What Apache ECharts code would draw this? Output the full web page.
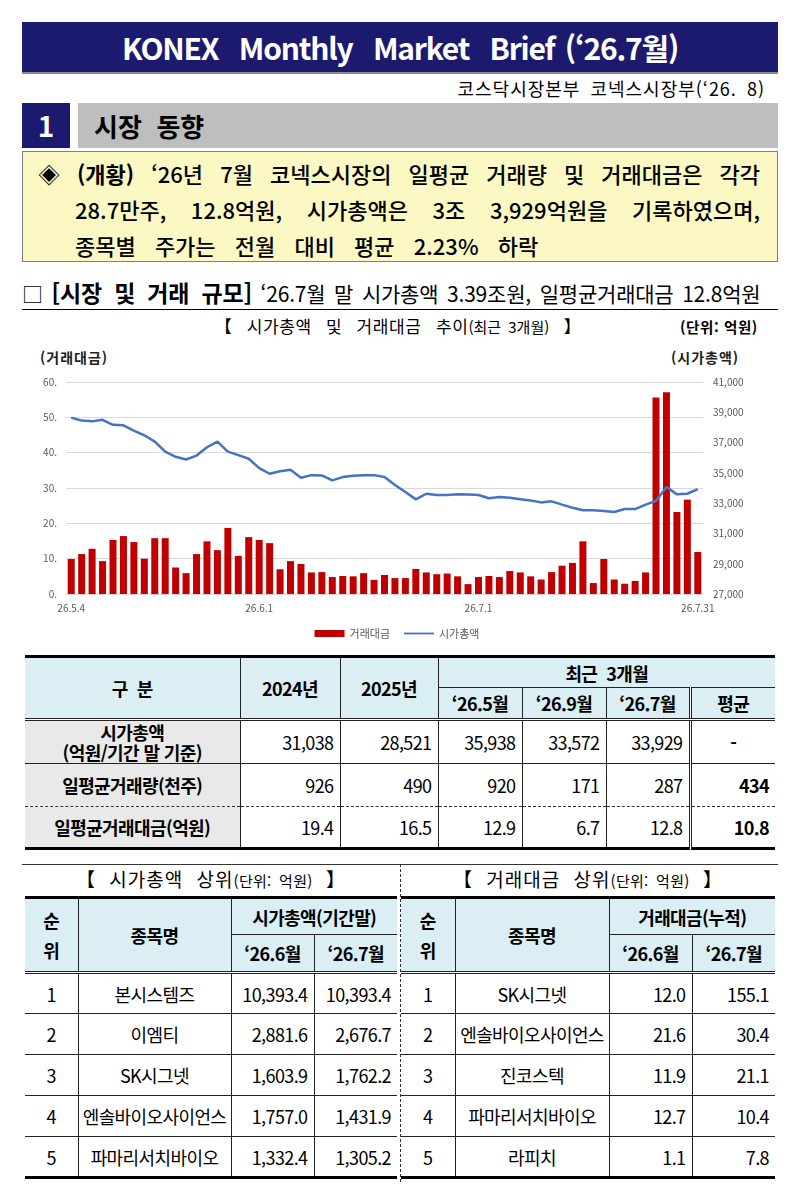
<!DOCTYPE html>
<html lang="ko">
<head>
<meta charset="utf-8">
<title>KONEX Monthly Market Brief</title>
<script src="https://cdn.jsdelivr.net/npm/echarts@6/dist/echarts.min.js"></script>
<style>
  body { margin: 0; background: #fff; font-family: "Noto Sans CJK KR", "Noto Sans", sans-serif; color: #000; }
  .page { position: relative; width: 794px; height: 1189px; overflow: hidden; }
  .abs { position: absolute; }
  .hdr { left: 22px; top: 22px; width: 756px; height: 50px; background: #1C1A6E; color: #fff;
         font-size: 30px; font-weight: 700; text-align: center; line-height: 50px; letter-spacing: -1.2px; word-spacing: 3px;
         border-bottom: 2px solid #8a8a8a; }
  .sub { right: 29px; top: 75px; font-size: 18px; letter-spacing: 1px; word-spacing: 4px; }
  .secnum { left: 22px; top: 103px; width: 48px; height: 45px; background: #1C1A6E; color: #fff; font-size: 28px; font-weight: 700; text-align: center; line-height: 45px; }
  .secbar { left: 78px; top: 103px; width: 700px; height: 45px; background: #BEBEBE; font-size: 26px; font-weight: 700; line-height: 45px; text-indent: 16px; }
  .ybox { left: 22px; top: 151px; width: 754px; height: 109px; background: #FBF8C3; border: 1px solid #7f7f7f; }
  .yl { font-size: 22px; font-weight: 500; letter-spacing: 0; line-height: 30px; white-space: nowrap; }
  .just { text-align: justify; text-align-last: justify; }
  .s2 { left: 22px; top: 275px; width: 760px; font-size: 21px; letter-spacing: -0.2px; word-spacing: 3px; white-space: nowrap; }
  .rule { left: 22px; top: 309px; width: 756px; height: 0; border-top: 1.5px solid #000; }
  .ctitle { left: 120px; top: 313px; width: 556px; text-align: center; font-size: 17px; letter-spacing: 0.6px; word-spacing: 9px; }
  .unit { left: 680px; top: 316px; font-size: 14.5px; font-weight: 600; letter-spacing: 0.6px; }
  .axn { top: 347px; font-size: 14px; font-weight: 700; color: #222; letter-spacing: 1px; }
  #chart { left: 0; top: 340px; width: 794px; height: 305px; }
  table { border-collapse: collapse; table-layout: fixed; position: absolute; font-size: 18px; letter-spacing: -0.6px; }
  td, th { padding: 0 6px; overflow: hidden; white-space: nowrap; }
  th { background: #DAEEF3; font-weight: 700; text-align: center; border-left: 1px solid #222; border-right: 1px solid #222; }
  .t1 { left: 25px; top: 655px; width: 750px; border-top: 3px solid #000; border-bottom: 3px solid #000; }
  .t1 td { text-align: right; border-left: 1px solid #222; }
  .t1 td.lab { text-align: center; background: #E9E9E9; font-weight: 700; border-left: none; padding: 0 2px; }
  .t1 th.first { border-left: none; }
  .t1 th.last, .t1 td.last { border-right: none; }
  .t1 .dbl { border-left: 3px double #222; }
  .t1 tr.hb th { border-bottom: 3px double #222; }
  .t1 tr.h1 th.grp { border-bottom: 1px solid #222; }
  .t1 tr.r1 td { border-bottom: 1px solid #222; }
  .t1 tr.r2 td { border-bottom: 1px dashed #333; }
  .t1 td.avg { font-weight: 700; text-align: right; }
  .tb { top: 896px; border-top: 3px solid #000; border-bottom: 3px solid #000; font-size: 18px; }
  .tb th.grp { border-bottom: 1px solid #222; }
  .tb tr.hb th { border-bottom: 3px double #222; }
  .tb td { border-left: 1px solid #222; border-bottom: 1px solid #222; text-align: right; }
  .tb td.c { text-align: center; padding: 0 1px; }
  .tb td.first, .tb th.first { border-left: none; }
  .tb td.last, .tb th.last { border-right: none; }
  .tb tr:last-child td { border-bottom: none; }
  .btitle { top: 865px; font-size: 19px; letter-spacing: 1px; word-spacing: 7px; text-align: center; }
  .btitle span { font-size: 15px; letter-spacing: 0.3px; word-spacing: 3px; }
  .hline { left: 22px; top: 864px; width: 756px; border-top: 1px solid #333; }
  .vline { left: 400px; top: 864px; height: 318px; border-left: 1px dashed #333; }
</style>
</head>
<body>
<div class="page">
  <div class="abs hdr">KONEX &nbsp;Monthly &nbsp;Market &nbsp;Brief (‘26.7월)</div>
  <div class="abs sub">코스닥시장본부 코넥스시장부(‘26. 8)</div>
  <div class="abs secnum">1</div>
  <div class="abs secbar">시장 &nbsp;동향</div>
  <div class="abs ybox"></div>
  <div class="abs yl just" style="left:38px; top:158px; width:722px;">◈ <b>(개황)</b> ‘26년 7월 코넥스시장의 일평균 거래량 및 거래대금은 각각</div>
  <div class="abs yl just" style="left:75px; top:194px; width:685px;">28.7만주, 12.8억원, 시가총액은 3조 3,929억원을 기록하였으며,</div>
  <div class="abs yl" style="left:75px; top:230px; word-spacing:13px;">종목별 주가는 전월 대비 평균 2.23% 하락</div>

  <div class="abs s2">□ <b style="font-size:23px; word-spacing:6px;">[시장 및 거래 규모]</b> ‘26.7월 말 시가총액 3.39조원, 일평균거래대금 12.8억원</div>
  <div class="abs rule"></div>
  <div class="abs ctitle">【 시가총액 및 거래대금 추이<span style="font-size:15px; letter-spacing:0; word-spacing:3px;">(최근 3개월)</span> 】</div>
  <div class="abs unit">(단위: 억원)</div>
  <div class="abs axn" style="left:40px;">(거래대금)</div>
  <div class="abs axn" style="left:671px;">(시가총액)</div>
  <div class="abs" id="chart"></div>

  <table class="t1">
    <colgroup><col style="width:215px"><col style="width:100px"><col style="width:98px"><col style="width:84px"><col style="width:84px"><col style="width:84px"><col style="width:85px"></colgroup>
    <tr class="h1" style="height:31px;">
      <th class="first" rowspan="2" style="border-bottom:3px double #222;">구 &nbsp;분</th>
      <th rowspan="2" style="border-bottom:3px double #222;">2024년</th>
      <th rowspan="2" style="border-bottom:3px double #222;">2025년</th>
      <th class="grp last" colspan="4">최근 &nbsp;3개월</th>
    </tr>
    <tr class="hb" style="height:32px;">
      <th>‘26.5월</th><th>‘26.9월</th><th>‘26.7월</th><th class="dbl last">평균</th>
    </tr>
    <tr class="r1" style="height:44px;">
      <td class="lab" style="line-height:20px;">시가총액<br>(억원/기간 말 기준)</td>
      <td>31,038</td><td>28,521</td><td>35,938</td><td>33,572</td><td>33,929</td><td class="dbl last avg" style="text-align:center;">-</td>
    </tr>
    <tr class="r2" style="height:43px;">
      <td class="lab">일평균거래량(천주)</td>
      <td>926</td><td>490</td><td>920</td><td>171</td><td>287</td><td class="dbl last avg">434</td>
    </tr>
    <tr style="height:42px;">
      <td class="lab">일평균거래대금(억원)</td>
      <td>19.4</td><td>16.5</td><td>12.9</td><td>6.7</td><td>12.8</td><td class="dbl last avg">10.8</td>
    </tr>
  </table>

  <div class="abs hline"></div>
  <div class="abs vline"></div>
  <div class="abs btitle" style="left:25px; width:372px;">【 시가총액 상위<span>(단위: 억원)</span> 】</div>
  <div class="abs btitle" style="left:401px; width:374px;">【 거래대금 상위<span>(단위: 억원)</span> 】</div>

  <table class="tb" style="left:25px; width:372px;">
    <colgroup><col style="width:53px"><col style="width:153px"><col style="width:83px"><col style="width:83px"></colgroup>
    <tr style="height:37px;">
      <th class="first" rowspan="2" style="border-bottom:3px double #222; line-height:30px;">순<br>위</th>
      <th rowspan="2" style="border-bottom:3px double #222;">종목명</th>
      <th class="grp last" colspan="2">시가총액(기간말)</th>
    </tr>
    <tr class="hb" style="height:38px;"><th>‘26.6월</th><th class="last">‘26.7월</th></tr>
    <tr style="height:41px;"><td class="c first">1</td><td class="c">본시스템즈</td><td>10,393.4</td><td class="last">10,393.4</td></tr>
    <tr style="height:41px;"><td class="c first">2</td><td class="c">이엠티</td><td>2,881.6</td><td class="last">2,676.7</td></tr>
    <tr style="height:41px;"><td class="c first">3</td><td class="c">SK시그넷</td><td>1,603.9</td><td class="last">1,762.2</td></tr>
    <tr style="height:41px;"><td class="c first">4</td><td class="c">엔솔바이오사이언스</td><td>1,757.0</td><td class="last">1,431.9</td></tr>
    <tr style="height:41px;"><td class="c first">5</td><td class="c">파마리서치바이오</td><td>1,332.4</td><td class="last">1,305.2</td></tr>
  </table>

  <table class="tb" style="left:401px; width:374px;">
    <colgroup><col style="width:54px"><col style="width:154px"><col style="width:83px"><col style="width:83px"></colgroup>
    <tr style="height:37px;">
      <th class="first" rowspan="2" style="border-bottom:3px double #222; line-height:30px;">순<br>위</th>
      <th rowspan="2" style="border-bottom:3px double #222;">종목명</th>
      <th class="grp last" colspan="2">거래대금(누적)</th>
    </tr>
    <tr class="hb" style="height:38px;"><th>‘26.6월</th><th class="last">‘26.7월</th></tr>
    <tr style="height:41px;"><td class="c first">1</td><td class="c">SK시그넷</td><td>12.0</td><td class="last">155.1</td></tr>
    <tr style="height:41px;"><td class="c first">2</td><td class="c">엔솔바이오사이언스</td><td>21.6</td><td class="last">30.4</td></tr>
    <tr style="height:41px;"><td class="c first">3</td><td class="c">진코스텍</td><td>11.9</td><td class="last">21.1</td></tr>
    <tr style="height:41px;"><td class="c first">4</td><td class="c">파마리서치바이오</td><td>12.7</td><td class="last">10.4</td></tr>
    <tr style="height:41px;"><td class="c first">5</td><td class="c">라피치</td><td>1.1</td><td class="last">7.8</td></tr>
  </table>
</div>

<script>
// 거래일 (26.5.4 ~ 26.7.31)
const dates = [
  '26.5.4', '26.5.6', '26.5.7', '26.5.8', '26.5.11', '26.5.12', '26.5.13', '26.5.14', '26.5.15',
  '26.5.18', '26.5.19', '26.5.20', '26.5.21', '26.5.22', '26.5.26', '26.5.27', '26.5.28', '26.5.29',
  '26.6.1', '26.6.2', '26.6.4', '26.6.5', '26.6.8', '26.6.9', '26.6.10', '26.6.11', '26.6.12',
  '26.6.15', '26.6.16', '26.6.17', '26.6.18', '26.6.19', '26.6.22', '26.6.23', '26.6.24', '26.6.25',
  '26.6.26', '26.6.29', '26.6.30',
  '26.7.1', '26.7.2', '26.7.3', '26.7.6', '26.7.7', '26.7.8', '26.7.9', '26.7.10', '26.7.13',
  '26.7.14', '26.7.15', '26.7.16', '26.7.20', '26.7.21', '26.7.22', '26.7.23', '26.7.24', '26.7.27',
  '26.7.28', '26.7.29', '26.7.30', '26.7.31'
];
const shownDates = ['26.5.4', '26.6.1', '26.7.1', '26.7.31'];

// 거래대금 (억원)
const tradeValue = [
  9.9, 11.3, 12.8, 9.3, 15.3, 16.4, 14.7, 10.0, 15.8, 15.8,
  7.5, 5.9, 11.3, 14.9, 12.4, 18.7, 10.8, 16.1, 15.3, 14.4,
  7.0, 9.3, 8.5, 6.1, 6.2, 4.8, 5.1, 5.0, 5.9, 4.0,
  5.4, 4.5, 4.5, 7.1, 6.1, 5.6, 5.8, 5.0, 2.8, 4.8,
  5.1, 4.8, 6.5, 6.1, 5.0, 4.1, 6.2, 8.0, 8.8, 14.9,
  3.1, 9.9, 4.1, 2.9, 3.7, 6.1, 55.6, 57.1, 23.2, 26.7, 11.9
];

// 시가총액 (억원)
const marketCap = [
  38650, 38450, 38400, 38500, 38170, 38140, 37790, 37480, 37060, 36400,
  36060, 35880, 36140, 36690, 37060, 36400, 36170, 35930, 35310, 34940,
  35110, 35200, 34680, 34850, 34830, 34500, 34720, 34810, 34850, 34850,
  34720, 34200, 33730, 33250, 33620, 33540, 33540, 33580, 33572, 33540,
  33320, 33400, 33360, 33250, 33180, 33050, 33120, 32900, 32700, 32530,
  32530, 32480, 32420, 32610, 32610, 32900, 33140, 34060, 33580, 33620, 33929
];

const chart = echarts.init(document.getElementById('chart'), null, { renderer: 'canvas' });
const labelColor = '#595959';
// 범례용 선 아이콘 (원 표시 없이 가는 선만)
const lineIcon = 'path://M0,0 L0,0 M0,2.6 L30,2.6 L30,4.4 L0,4.4 Z M30,7 L30,7';

chart.setOption({
  animation: false,
  textStyle: { fontFamily: 'Noto Sans CJK KR' },
  grid: { left: 66, right: 91, top: 42, height: 212 },
  legend: {
    top: 283,
    left: 'center',
    itemWidth: 30,
    itemHeight: 7,
    itemGap: 14,
    textStyle: { fontSize: 11, color: labelColor },
    data: [{ name: '거래대금', icon: 'rect' }, { name: '시가총액', icon: lineIcon }]
  },
  xAxis: {
    type: 'category',
    data: dates,
    axisLine: { lineStyle: { color: '#D9D9D9' } },
    axisTick: { show: false },
    axisLabel: {
      interval: (i, v) => shownDates.includes(v),
      color: labelColor,
      fontSize: 10,
      margin: 9
    }
  },
  yAxis: [
    {
      type: 'value', min: 0, max: 60, interval: 10,
      axisLine: { show: false }, axisTick: { show: false },
      axisLabel: { color: labelColor, fontSize: 10, margin: 9, formatter: v => v + '.' },
      splitLine: { lineStyle: { color: '#D9D9D9' } }
    },
    {
      type: 'value', min: 27000, max: 41000, interval: 2000,
      axisLine: { show: false }, axisTick: { show: false },
      axisLabel: { color: labelColor, fontSize: 10, margin: 10, formatter: v => v.toLocaleString('en-US') },
      splitLine: { show: false }
    }
  ],
  series: [
    {
      name: '거래대금',
      type: 'bar',
      data: tradeValue,
      barWidth: 7,
      itemStyle: { color: '#C00000' }
    },
    {
      name: '시가총액',
      type: 'line',
      yAxisIndex: 1,
      data: marketCap,
      symbol: 'none',
      lineStyle: { color: '#4472C4', width: 2.5 },
      itemStyle: { color: '#4472C4' }
    }
  ]
});
</script>
</body>
</html>
